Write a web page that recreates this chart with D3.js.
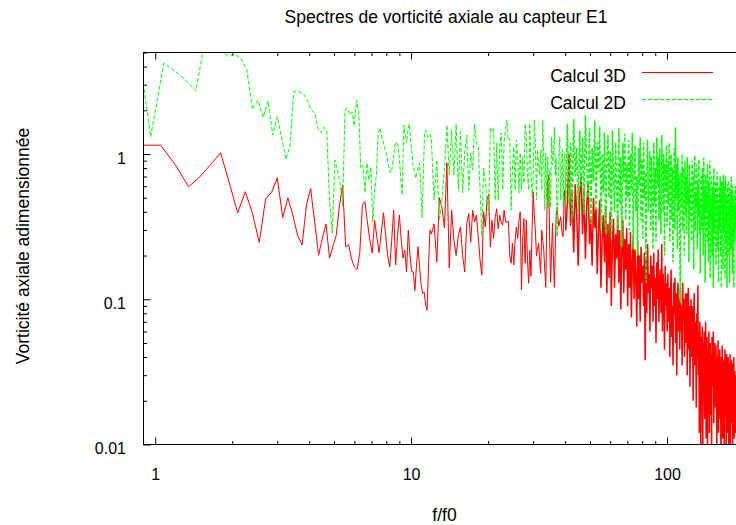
<!DOCTYPE html>
<html><head><meta charset="utf-8">
<script src="https://cdn.jsdelivr.net/npm/d3@7"></script>
<style>
body{margin:0;background:#fff}
text{font-family:"Liberation Sans",Arial,Helvetica,sans-serif;fill:#000}
</style>
</head><body>
<svg id="c" width="736" height="525"></svg>
<script>
// ---- texts ----
const chartTitle = "Spectres de vorticité axiale au capteur E1";
const xLabel = "f/f0";
const yLabel = "Vorticité axiale adimensionnée";
const seriesNames = ["Calcul 3D", "Calcul 2D"];

// ---- ticks ----
const xTicks = [1, 10, 100];
const xTickLabels = ["1", "10", "100"];
const xMinorTicks = [2,3,4,5,6,7,8,9,20,30,40,50,60,70,80,90,200];
const yTicks = [0.01, 0.1, 1];
const yTickLabels = ["0.01", "0.1", "1"];
const yMinorTicks = [0.02,0.03,0.04,0.05,0.06,0.07,0.08,0.09,0.2,0.3,0.4,0.5,0.6,0.7,0.8,0.9,2,3,4,5];

// ---- frequency sampling grids (start, step) ----
const red3D_A_start = 0.9, red3D_A_step = 0.15;
const green2D_A_start = 0.84, green2D_A_step = 0.12;
const segB_start = 12.3, segB_step = 0.3;
const segC_start = 40.8, segC_step = 0.6;

// ---- Calcul 3D (red) ----
const red3D_A = [
 1.15,1.15,0.84,0.595,0.70,0.85,1.02,0.63,0.394,0.55,
 0.39,0.246,0.49,0.545,0.686,0.366,0.50,0.38,0.276,0.236,
 0.445,0.58,0.34,0.201,0.264,0.329,0.192,0.232,0.276,0.445,
 0.611,0.23,0.238,0.19,0.167,0.160,0.207,0.445,0.469,0.34,
 0.255,0.208,0.35,0.268,0.209,0.29,0.394,0.276,0.2,0.167,
 0.255,0.411,0.172,0.276,0.38,0.255,0.192,0.218,0.154,0.299,
 0.2,0.156,0.154,0.115,0.172,0.23,0.164,0.125,0.11,0.112,
 0.091,0.084,0.172,0.299,0.281];
const red3D_B = [
 0.33,0.18,0.50,0.43,0.31,0.87,0.164,0.41,0.255,0.20,
 0.276,0.315,0.201,0.154,0.33,0.39,0.247,0.41,0.34,0.38,
 0.27,0.186,0.147,0.40,0.315,0.48,0.53,0.23,0.35,0.262,
 0.36,0.42,0.305,0.38,0.34,0.324,0.41,0.34,0.34,0.345,
 0.20,0.177,0.243,0.172,0.255,0.315,0.262,0.35,0.40,0.116,
 0.255,0.36,0.177,0.351,0.186,0.129,0.218,0.144,0.299,0.547,
 0.38,0.299,0.198,0.226,0.243,0.186,0.151,0.299,0.255,0.218,
 0.159,0.121,0.351,0.662,0.716,0.255,0.131,0.218,0.334,0.186,
 0.121,0.218,0.38,0.43,0.36,0.318,0.34,0.37,0.324,0.276,
 0.27,0.48,0.565,0.299];
const red3D_C = [
 0.45,1.0,0.32,0.55,0.21,0.62,0.38,0.17,0.52,0.70,
 0.28,0.58,0.19,0.45,0.62,0.24,0.36,0.17,0.50,0.31,
 0.42,0.15,0.30,0.48,0.12,0.26,0.38,0.18,0.44,0.11,
 0.33,0.14,0.40,0.09,0.25,0.36,0.12,0.28,0.19,0.38,
 0.13,0.30,0.085,0.22,0.35,0.11,0.26,0.16,0.31,0.09,
 0.24,0.12,0.29,0.075,0.18,0.27,0.10,0.22,0.14,0.065,
 0.25,0.10,0.20,0.07,0.23,0.13,0.17,0.09,0.21,0.038,
 0.19,0.08,0.24,0.11,0.15,0.06,0.20,0.12,0.17,0.07,
 0.21,0.09,0.14,0.05,0.18,0.10,0.22,0.07,0.13,0.16,
 0.08,0.24,0.06,0.15,0.11,0.045,0.17,0.09,0.13,0.06,
 0.15,0.07,0.12,0.04,0.10,0.16,0.055,0.09,0.035,0.13,
 0.08,0.14,0.05,0.11,0.03,0.09,0.13,0.06,0.10,0.045,
 0.12,0.06,0.09,0.035,0.13,0.07,0.10,0.04,0.08,0.11,
 0.05,0.11,0.03,0.08,0.12,0.045,0.09,0.025,0.07,0.10,
 0.04,0.09,0.06,0.02,0.08,0.11,0.035,0.07,0.05,0.018,
 0.08,0.04,0.125,0.03,0.06,0.012,0.07,0.045,0.009,0.055,
 0.035,0.065,0.008,0.05,0.025,0.06,0.015,0.04,0.07,0.011,
 0.03,0.055,0.009,0.045,0.02,0.06,0.012,0.038,0.05,0.016,
 0.042,0.008,0.055,0.025,0.035,0.06,0.014,0.045,0.02,0.05,
 0.018,0.048,0.03,0.009,0.04,0.022,0.052,0.012,0.035,0.026,
 0.045,0.015,0.032,0.007,0.04,0.024,0.048,0.011,0.03,0.02,
 0.038,0.009,0.028,0.045,0.016,0.034,0.008,0.042,0.02,0.03,
 0.012,0.04,0.025,0.007,0.035,0.018,0.042,0.01,0.03,0.022,
 0.038,0.014,0.028,0.008,0.036,0.02,0.04,0.011,0.026,0.032,
 0.012,0.03,0.02];

// ---- Calcul 2D (green) ----
const green2D_A = [
 7.2,1.316,4.22,3.70,3.20,2.73,5.8,6.0,5.1,4.74,
 4.87,4.57,3.80,2.03,2.36,1.78,2.32,1.35,1.81,1.29,
 0.919,1.12,2.69,2.72,2.63,2.53,2.28,2.01,1.92,1.51,
 1.40,1.53,1.44,0.48,0.285,0.909,0.776,0.631,0.438,2.01,
 2.07,1.86,1.95,1.56,2.36,1.95,0.80,0.84,0.54,0.867,
 0.662,0.813,0.34,0.565,0.716,1.40,1.51,1.31,1.19,1.07,
 0.98,0.84,0.74,0.776,0.91,1.15,1.21,1.15,0.94,0.662,
 0.522,1.58,1.35,1.19,1.46,1.61,1.25,1.03,0.826,0.75,
 0.683,0.75,0.813,0.867,0.565,0.362,0.716,1.35,1.46,1.37,
 1.31,1.37,1.37,1.25];
const green2D_B = [
 0.482,0.909,0.35,0.48,0.776,1.58,0.716,1.46,0.716,1.61,
 0.565,1.42,0.54,1.02,1.35,0.565,1.02,0.776,1.61,1.19,
 1.12,0.565,0.27,0.80,0.66,0.482,0.38,1.53,1.46,1.51,
 0.48,1.19,0.48,1.12,1.40,0.565,1.19,1.46,1.71,1.25,
 1.28,0.41,0.80,1.12,0.565,1.25,0.95,0.54,1.02,0.565,
 0.95,0.63,1.61,1.35,0.716,0.565,1.63,0.776,0.505,0.662,
 1.71,1.19,0.482,1.07,0.88,0.716,1.07,0.565,1.71,0.91,
 0.41,1.02,0.482,0.95,0.43,0.776,0.43,1.31,0.84,1.02,
 1.53,0.716,0.95,0.268,0.565,0.95,1.31,0.482,0.776,1.07,
 0.43,0.91,1.02,0.482];
const green2D_C = [
 1.6,0.45,1.2,0.36,1.75,0.7,1.1,0.4,1.45,0.6,
 1.3,0.38,1.85,0.8,0.5,1.5,0.33,1.1,0.65,1.7,
 0.42,1.2,0.75,1.55,0.3,1.0,0.55,1.4,0.28,0.9,
 1.35,0.5,1.05,0.26,1.46,0.7,0.4,1.2,0.6,0.3,
 1.5,0.45,0.95,0.23,1.2,0.65,1.38,0.35,0.85,0.5,
 1.25,0.3,1.0,0.55,1.4,0.22,0.8,1.15,0.4,0.7,
 0.2,1.1,0.6,1.3,0.35,0.9,0.26,1.2,0.5,0.75,
 0.13,0.85,1.25,0.4,0.7,1.05,0.3,0.95,0.55,0.22,
 1.2,0.45,0.8,0.25,1.3,0.6,0.95,0.35,1.1,0.5,
 0.28,1.35,0.7,0.4,1.0,0.2,0.85,0.55,1.15,0.32,
 0.9,0.45,1.2,0.25,0.7,1.0,0.35,0.8,0.18,0.6,
 1.1,0.3,1.53,0.5,0.85,0.22,0.95,0.4,0.7,0.26,
 0.094,0.75,0.45,1.0,0.3,0.8,0.55,0.2,0.9,0.38,
 0.7,0.28,0.95,0.45,0.6,0.18,0.85,0.35,0.65,0.5,
 0.25,0.9,0.4,0.75,0.16,0.6,0.98,0.3,0.55,0.45,
 0.85,0.22,0.65,0.38,0.92,0.28,0.5,0.15,0.7,0.42,
 0.3,0.8,0.5,0.2,0.94,0.35,0.6,0.13,0.72,0.4,
 0.55,0.25,0.85,0.4,0.18,0.65,0.32,0.9,0.14,0.5,
 0.35,0.7,0.2,0.6,0.45,0.12,0.8,0.3,0.55,0.24,
 0.65,0.17,0.5,0.38,0.75,0.22,0.45,0.13,0.6,0.3,
 0.4,0.7,0.2,0.55,0.12,0.65,0.33,0.48,0.16,0.72,
 0.28,0.6,0.42,0.14,0.7,0.25,0.52,0.35,0.12,0.62,
 0.45,0.2,0.66,0.3,0.5,0.13,0.58,0.38,0.22,0.7,
 0.33,0.55,0.15,0.6,0.27,0.45,0.12,0.52,0.36,0.25,
 0.6,0.3,0.45];

// ---- build ----
function onGrid(start, step, vals){ return vals.map((v,i)=>[start + i*step, v]); }
const red3D_AB = [].concat(
  onGrid(red3D_A_start, red3D_A_step, red3D_A),
  onGrid(segB_start, segB_step, red3D_B));
const red3D_Cpts = [red3D_AB[red3D_AB.length-1]].concat(onGrid(segC_start, segC_step, red3D_C));
const green2D_AB = [].concat(
  onGrid(green2D_A_start, green2D_A_step, green2D_A),
  onGrid(segB_start, segB_step, green2D_B));
const green2D_Cpts = [green2D_AB[green2D_AB.length-1]].concat(onGrid(segC_start, segC_step, green2D_C));

const L = 143.5, R = 744, T = 52.5, B = 444.5;
const svg = d3.select("#c");
const x = d3.scaleLog().domain([0.9, 200]).range([L, R]);
const y = d3.scaleLog().domain([0.01, 5]).range([B, T]);

svg.append("defs").append("clipPath").attr("id","plotclip")
  .append("rect").attr("x",L).attr("y",T).attr("width",R-L).attr("height",B-T);

// title & labels
svg.append("text").attr("x",446).attr("y",22.7).attr("text-anchor","middle")
  .style("font-size","17.5px").text(chartTitle);
svg.append("text").attr("x",444.5).attr("y",520.5).attr("text-anchor","middle")
  .style("font-size","17.5px").text(xLabel);
svg.append("text").attr("transform","translate(29,246) rotate(-90)").attr("text-anchor","middle")
  .style("font-size","17.5px").text(yLabel);

// axes (ticks inward, gnuplot style)
function styleAxis(g){ g.select(".domain").remove(); g.selectAll("line").attr("stroke","#000"); }
svg.append("g").attr("transform",`translate(0,${B})`)
  .call(d3.axisBottom(x).tickValues(xTicks).tickFormat((d,i)=>xTickLabels[i]).tickSize(-7))
  .call(styleAxis)
  .call(g=>g.selectAll("text").attr("y",35.5).attr("dy",null).style("font-size","16px").attr("font-family",null));
svg.append("g").attr("transform",`translate(0,${B})`)
  .call(d3.axisBottom(x).tickValues(xMinorTicks).tickFormat("").tickSize(-3.5)).call(styleAxis);
svg.append("g").attr("transform",`translate(0,${T})`)
  .call(d3.axisTop(x).tickValues(xTicks).tickFormat("").tickSize(-7)).call(styleAxis);
svg.append("g").attr("transform",`translate(0,${T})`)
  .call(d3.axisTop(x).tickValues(xMinorTicks).tickFormat("").tickSize(-3.5)).call(styleAxis);
svg.append("g").attr("transform",`translate(${L},0)`)
  .call(d3.axisLeft(y).tickValues(yTicks).tickFormat((d,i)=>yTickLabels[i]).tickSize(-7).tickPadding(17.5))
  .call(styleAxis)
  .call(g=>g.selectAll("text").attr("dy","9px").style("font-size","16px").attr("font-family",null));
svg.append("g").attr("transform",`translate(${L},0)`)
  .call(d3.axisLeft(y).tickValues(yMinorTicks).tickFormat("").tickSize(-3.5)).call(styleAxis);
svg.append("g").attr("transform",`translate(${R},0)`)
  .call(d3.axisRight(y).tickValues(yTicks).tickFormat("").tickSize(-7)).call(styleAxis);
svg.append("g").attr("transform",`translate(${R},0)`)
  .call(d3.axisRight(y).tickValues(yMinorTicks).tickFormat("").tickSize(-3.5)).call(styleAxis);

// data (dense high-frequency part drawn a bit heavier, as the many overlapping
// samples of the original fill that band)
const line = d3.line().x(d=>x(d[0])).y(d=>y(d[1]));
const plot = svg.append("g").attr("clip-path","url(#plotclip)");
plot.append("path").datum(red3D_AB).attr("d",line)
  .attr("fill","none").attr("stroke","#ff0000").attr("stroke-width",1);
plot.append("path").datum(red3D_Cpts).attr("d",line)
  .attr("fill","none").attr("stroke","#ff0000").attr("stroke-width",1.5);
plot.append("path").datum(green2D_AB).attr("d",line)
  .attr("fill","none").attr("stroke","#00ff00").attr("stroke-width",1).attr("stroke-dasharray","4,2");
plot.append("path").datum(green2D_Cpts).attr("d",line)
  .attr("fill","none").attr("stroke","#00ff00").attr("stroke-width",1.5).attr("stroke-dasharray","4,2");

// frame
svg.append("rect").attr("x",L).attr("y",T).attr("width",R-L).attr("height",B-T)
  .attr("fill","none").attr("stroke","#000").attr("stroke-width",1);

// legend
const legend = [
  {name: seriesNames[0], color:"#ff0000", dash:null, ty:81.7, ly:72.5},
  {name: seriesNames[1], color:"#00ff00", dash:"4,2", ty:109, ly:99.5}
];
legend.forEach(l=>{
  svg.append("text").attr("x",626).attr("y",l.ty).attr("text-anchor","end")
    .style("font-size","17.5px").text(l.name);
  svg.append("line").attr("x1",642).attr("x2",713).attr("y1",l.ly).attr("y2",l.ly)
    .attr("stroke",l.color).attr("stroke-width",1).attr("stroke-dasharray",l.dash);
});
</script>
</body></html>
